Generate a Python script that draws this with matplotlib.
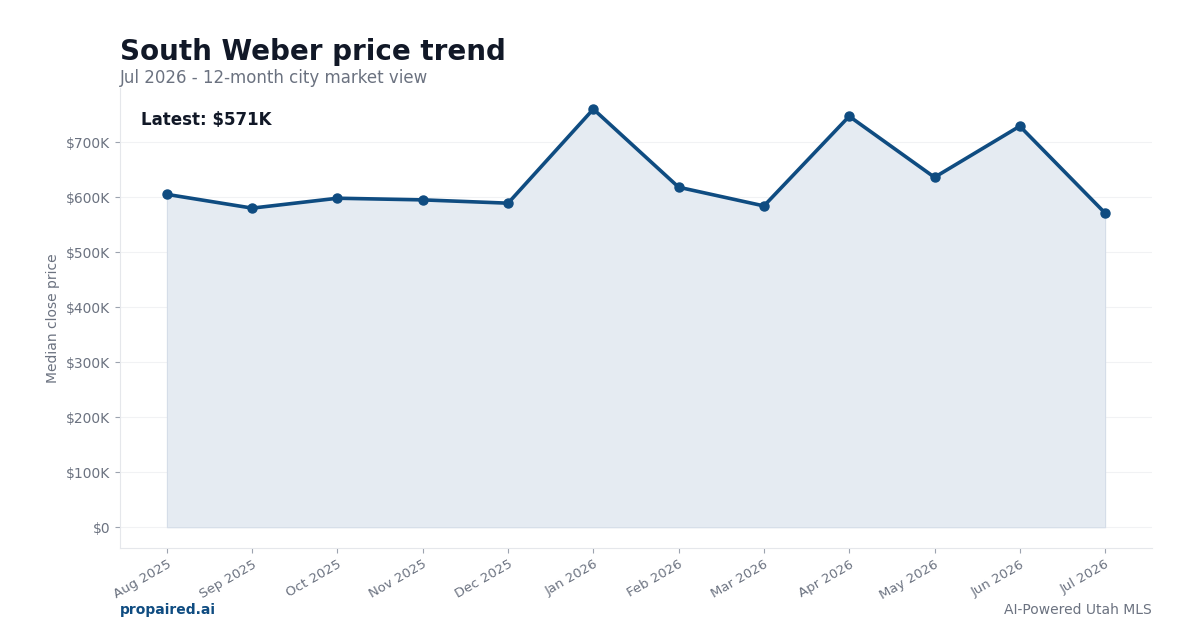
import matplotlib.pyplot as plt
from matplotlib.ticker import FuncFormatter

months = ["Aug 2025", "Sep 2025", "Oct 2025", "Nov 2025", "Dec 2025", "Jan 2026",
          "Feb 2026", "Mar 2026", "Apr 2026", "May 2026", "Jun 2026", "Jul 2026"]
prices = [605000, 580000, 598000, 595000, 589000, 760000,
          618000, 584000, 747000, 636000, 729000, 571000]

navy = "#0f4c81"
gray = "#6b7280"
dark = "#111827"

fig = plt.figure(figsize=(12, 6.3), dpi=100)
ax = fig.add_axes([0.1, 0.13, 0.86, 0.73])

x = list(range(len(months)))
ax.fill_between(x, prices, 0, facecolor="#e5ebf2", edgecolor="#d5dde8", linewidth=0.8, zorder=2)
ax.plot(x, prices, color=navy, linewidth=2.6, marker="o", markersize=6.5, zorder=3)

ax.set_xticks(x)
ax.set_xticklabels(months, rotation=30, ha="right", rotation_mode="anchor")
ax.yaxis.set_major_formatter(FuncFormatter(lambda v, p: "$0" if v == 0 else f"${v/1000:.0f}K"))
ax.set_ylabel("Median close price", color=gray, fontsize=10)
ax.tick_params(colors=gray, labelsize=10)
ax.tick_params(axis="x", labelsize=9.5)
ax.tick_params(axis="both", color="#9ca3af")
ax.grid(axis="y", color="#f1f2f4", linewidth=0.8)
ax.set_axisbelow(True)
for s in ["top", "right"]:
    ax.spines[s].set_visible(False)
for s in ["left", "bottom"]:
    ax.spines[s].set_color("#e5e7eb")

ax.text(0.02, 0.95, "Latest: $571K", transform=ax.transAxes, fontsize=12,
        fontweight="bold", color=dark, va="top")

fig.text(0.1, 0.905, "South Weber price trend", fontsize=20, fontweight="bold", color=dark)
fig.text(0.1, 0.868, "Jul 2026 - 12-month city market view", fontsize=12, color=gray)
fig.text(0.1, 0.025, "propaired.ai", fontsize=10, fontweight="bold", color=navy)
fig.text(0.96, 0.025, "AI-Powered Utah MLS", fontsize=10, color=gray, ha="right")

fig.savefig("out.png", dpi=100)
